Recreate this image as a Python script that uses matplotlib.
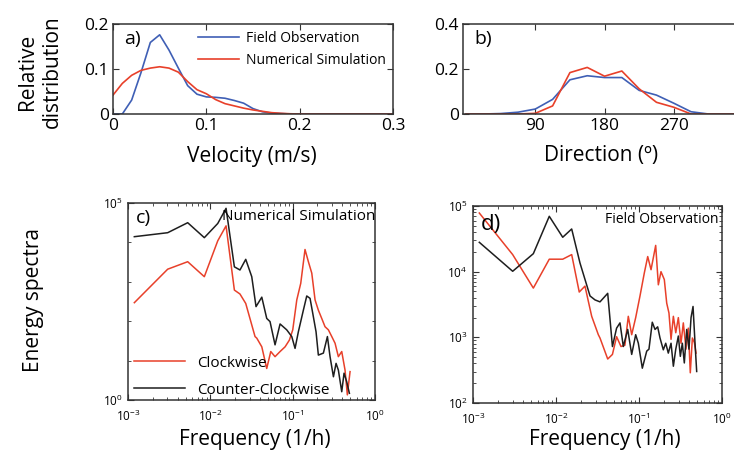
import numpy as np
import matplotlib.pyplot as plt
from matplotlib.ticker import LogLocator, NullFormatter

plt.rcParams['font.family'] = ['Open Sans', 'DejaVu Sans']
plt.rcParams['mathtext.fontset'] = 'custom'
plt.rcParams['mathtext.rm'] = 'Open Sans'

BLUE = '#3f5fb5'
RED = '#e8402a'
BLACK = '#1e1e1e'

# a) velocity distribution
velocity = [0.00, 0.01, 0.02, 0.03, 0.04, 0.05, 0.06, 0.07, 0.08, 0.09, 0.10,
            0.11, 0.12, 0.13, 0.14, 0.15, 0.16, 0.17, 0.18, 0.19, 0.20,
            0.22, 0.24, 0.26, 0.28, 0.30]
vel_field = [0.0, 0.0, 0.031, 0.092, 0.159, 0.176, 0.142, 0.102, 0.063, 0.044, 0.038,
             0.037, 0.035, 0.030, 0.024, 0.012, 0.005, 0.002, 0.001, 0.0, 0.0,
             0.0, 0.0, 0.0, 0.0, 0.0]
vel_model = [0.042, 0.068, 0.086, 0.097, 0.102, 0.105, 0.102, 0.093, 0.072, 0.054, 0.045,
             0.032, 0.023, 0.018, 0.013, 0.009, 0.006, 0.003, 0.0015, 0.0005, 0.0,
             0.0, 0.0, 0.0, 0.0, 0.0]

# b) direction distribution
direction = [0, 22.5, 45, 67.5, 90, 112.5, 135, 157.5, 180, 202.5, 225, 247.5,
             270, 292.5, 315, 337.5, 360]
dir_field = [0, 0, 0.002, 0.008, 0.022, 0.065, 0.152, 0.170, 0.162, 0.162, 0.105,
             0.084, 0.048, 0.010, 0, 0, 0]
dir_model = [0, 0, 0, 0, 0.003, 0.036, 0.184, 0.207, 0.168, 0.191, 0.112,
             0.052, 0.030, 0, 0, 0, 0]

# c) numerical simulation spectra (log10 of frequency and energy)
c_cw_logf = [-2.923, -2.518, -2.275, -2.073, -1.910, -1.809, -1.708, -1.640, -1.570,
             -1.457, -1.436, -1.375, -1.315, -1.266, -1.214, -1.153, -1.092, -1.040,
             -0.999, -0.950, -0.902, -0.850, -0.809, -0.768, -0.728, -0.688, -0.647,
             -0.607, -0.566, -0.525, -0.485, -0.445, -0.404, -0.364, -0.336, -0.303]
c_cw_loge = [2.47, 3.32, 3.51, 3.13, 4.04, 4.42, 2.79, 2.69, 2.45,
             1.61, 1.57, 1.35, 0.80, 1.23, 1.10, 1.23, 1.35, 1.52,
             1.78, 2.54, 2.96, 3.82, 3.51, 3.22, 2.54, 2.28, 2.07,
             1.86, 1.78, 1.61, 1.44, 1.10, 1.23, 0.76, 0.13, 0.72]
c_ccw_logf = [-2.923, -2.518, -2.275, -2.073, -1.910, -1.809, -1.708, -1.640, -1.570,
              -1.497, -1.445, -1.375, -1.315, -1.275, -1.214, -1.153, -1.072, -1.011,
              -0.971, -0.931, -0.870, -0.829, -0.789, -0.756, -0.716, -0.688, -0.627,
              -0.578, -0.546, -0.505, -0.473, -0.445, -0.404, -0.376, -0.343, -0.311]
c_ccw_loge = [4.145, 4.246, 4.50, 4.12, 4.48, 4.865, 3.38, 3.30, 3.57,
              3.13, 2.37, 2.61, 2.07, 1.99, 1.40, 1.93, 1.78, 1.61,
              1.31, 1.73, 2.28, 2.64, 2.58, 2.20, 1.73, 1.14, 1.19,
              1.61, 1.10, 0.59, 0.93, 0.76, 0.21, 0.68, 0.46, 0.17]

# d) field observation spectra (log10 of frequency and energy)
d_cw_logf = [-2.924, -2.522, -2.273, -2.081, -1.919, -1.811, -1.720, -1.651, -1.570,
             -1.490, -1.470, -1.377, -1.320, -1.270, -1.217, -1.170, -1.129, -1.088,
             -1.040, -0.988, -0.936, -0.895, -0.855, -0.799, -0.767, -0.735, -0.695,
             -0.666, -0.639, -0.614, -0.586, -0.557, -0.526, -0.494, -0.466, -0.434,
             -0.406, -0.382, -0.357, -0.333, -0.313]
d_cw_loge = [4.893, 4.26, 3.75, 4.19, 4.19, 4.26, 3.69, 3.78, 3.32,
             3.04, 2.99, 2.67, 2.74, 3.01, 2.86, 2.88, 3.32, 3.04,
             3.30, 3.63, 3.98, 4.23, 4.03, 4.40, 3.80, 4.00, 3.88,
             3.52, 3.37, 2.97, 3.32, 3.07, 3.30, 2.91, 3.22, 2.82,
             3.14, 2.46, 2.99, 2.92, 2.76]
d_ccw_logf = [-2.924, -2.522, -2.273, -2.081, -1.919, -1.811, -1.711, -1.590, -1.530,
              -1.470, -1.377, -1.320, -1.270, -1.229, -1.189, -1.136, -1.088, -1.040,
              -1.008, -0.960, -0.907, -0.880, -0.840, -0.807, -0.775, -0.747, -0.707,
              -0.678, -0.647, -0.614, -0.586, -0.557, -0.526, -0.502, -0.478, -0.454,
              -0.425, -0.398, -0.373, -0.349, -0.325, -0.305]
d_ccw_loge = [4.447, 4.006, 4.274, 4.843, 4.524, 4.65, 4.132, 3.63, 3.57,
              3.54, 3.67, 2.86, 3.14, 3.22, 2.86, 3.12, 2.74, 3.04,
              2.91, 2.53, 2.79, 2.82, 3.23, 3.12, 3.16, 2.99, 2.81,
              2.91, 2.76, 2.91, 2.56, 2.82, 3.02, 2.71, 2.91, 2.61,
              3.12, 2.82, 3.30, 3.47, 2.91, 2.48]

W, H = 734, 457
fig = plt.figure(figsize=(W / 100, H / 100), dpi=100)


def box(left, top, right, bottom):
    return [left / W, 1 - bottom / H, (right - left) / W, (bottom - top) / H]


def style(ax, size, xpad=3, ypad=3):
    for s in ax.spines.values():
        s.set_linewidth(1.1)
        s.set_color('#333333')
    ax.tick_params(which='both', direction='in', top=True, right=True,
                   labelsize=size, color='#333333')
    ax.tick_params(axis='x', pad=xpad)
    ax.tick_params(axis='y', pad=ypad)
    ax.tick_params(which='major', length=4)
    ax.tick_params(which='minor', length=2)


# panel a
ax_a = fig.add_axes(box(113, 24, 393, 114))
ax_a.plot(velocity, vel_field, color=BLUE, lw=1.2, label='Field Observation')
ax_a.plot(velocity, vel_model, color=RED, lw=1.2, label='Numerical Simulation')
ax_a.set_xlim(0, 0.3)
ax_a.set_ylim(0, 0.2)
ax_a.set_xticks([0, 0.1, 0.2, 0.3], ['0', '0.1', '0.2', '0.3'])
ax_a.set_yticks([0, 0.1, 0.2], ['0', '0.1', '0.2'])
style(ax_a, 12.5)
ax_a.legend(loc='upper right', frameon=False, fontsize=10, handlelength=3.0,
            handletextpad=0.5, borderaxespad=0.1, labelspacing=0.5,
            bbox_to_anchor=(1.0, 1.0))
ax_a.text(0.04, 0.93, 'a)', transform=ax_a.transAxes, fontsize=14, va='top')

# panel b
ax_b = fig.add_axes(box(463, 24, 743, 114))
ax_b.plot(direction, dir_field, color=BLUE, lw=1.2)
ax_b.plot(direction, dir_model, color=RED, lw=1.2)
ax_b.set_xlim(-4, 360)
ax_b.set_ylim(0, 0.4)
ax_b.set_xticks([90, 180, 270])
ax_b.set_yticks([0, 0.2, 0.4], ['0', '0.2', '0.4'])
style(ax_b, 12.5)
ax_b.text(0.04, 0.93, 'b)', transform=ax_b.transAxes, fontsize=14, va='top')

# panel c
ax_c = fig.add_axes(box(128, 203, 375, 400))
ax_c.plot(10 ** np.array(c_cw_logf), 10 ** np.array(c_cw_loge), color=RED, lw=1.1,
          label='Clockwise')
ax_c.plot(10 ** np.array(c_ccw_logf), 10 ** np.array(c_ccw_loge), color=BLACK, lw=1.1,
          label='Counter-Clockwise')
ax_c.set_xscale('log')
ax_c.set_yscale('log')
ax_c.set_xlim(1e-3, 1)
ax_c.set_ylim(1, 1e5)
ax_c.set_xticks([1e-3, 1e-2, 1e-1, 1])
ax_c.set_yticks([1, 1e5])
ax_c.yaxis.set_minor_locator(LogLocator(base=10, subs=(1.0,), numticks=10))
ax_c.yaxis.set_minor_formatter(NullFormatter())
style(ax_c, 8.5, xpad=6, ypad=4)
ax_c.legend(loc='lower left', frameon=False, fontsize=11, handlelength=3.3,
            handletextpad=0.8, borderaxespad=0.0, labelspacing=0.8,
            bbox_to_anchor=(0.0, -0.02))
ax_c.text(0.03, 0.97, 'c)', transform=ax_c.transAxes, fontsize=14, va='top')
ax_c.text(1.0, 0.97, 'Numerical Simulation', transform=ax_c.transAxes, fontsize=11,
          va='top', ha='right')

# panel d
ax_d = fig.add_axes(box(473, 206, 722, 403))
ax_d.plot(10 ** np.array(d_cw_logf), 10 ** np.array(d_cw_loge), color=RED, lw=1.1)
ax_d.plot(10 ** np.array(d_ccw_logf), 10 ** np.array(d_ccw_loge), color=BLACK, lw=1.1)
ax_d.set_xscale('log')
ax_d.set_yscale('log')
ax_d.set_xlim(1e-3, 1)
ax_d.set_ylim(1e2, 1e5)
ax_d.set_xticks([1e-3, 1e-2, 1e-1, 1])
ax_d.set_yticks([1e2, 1e3, 1e4, 1e5])
style(ax_d, 8.5, xpad=6, ypad=4)
ax_d.text(0.03, 0.96, 'd)', transform=ax_d.transAxes, fontsize=16, va='top')
ax_d.text(0.985, 0.97, 'Field Observation', transform=ax_d.transAxes, fontsize=10,
          va='top', ha='right')

# axis titles
fig.text(40 / W, 1 - 72 / H, 'Relative\ndistribution', rotation=90, ha='center',
         va='center', fontsize=15, linespacing=1.25)
fig.text(252 / W, 1 - 157 / H, 'Velocity (m/s)', ha='center', va='center', fontsize=15)
fig.text(601 / W, 1 - 156 / H, 'Direction (º)', ha='center', va='center', fontsize=15)
fig.text(33 / W, 1 - 300 / H, 'Energy spectra', rotation=90, ha='center',
         va='center', fontsize=15)
fig.text(255 / W, 1 - 440 / H, 'Frequency (1/h)', ha='center', va='center', fontsize=15)
fig.text(605 / W, 1 - 440 / H, 'Frequency (1/h)', ha='center', va='center', fontsize=15)

fig.savefig('out.png', dpi=100)
